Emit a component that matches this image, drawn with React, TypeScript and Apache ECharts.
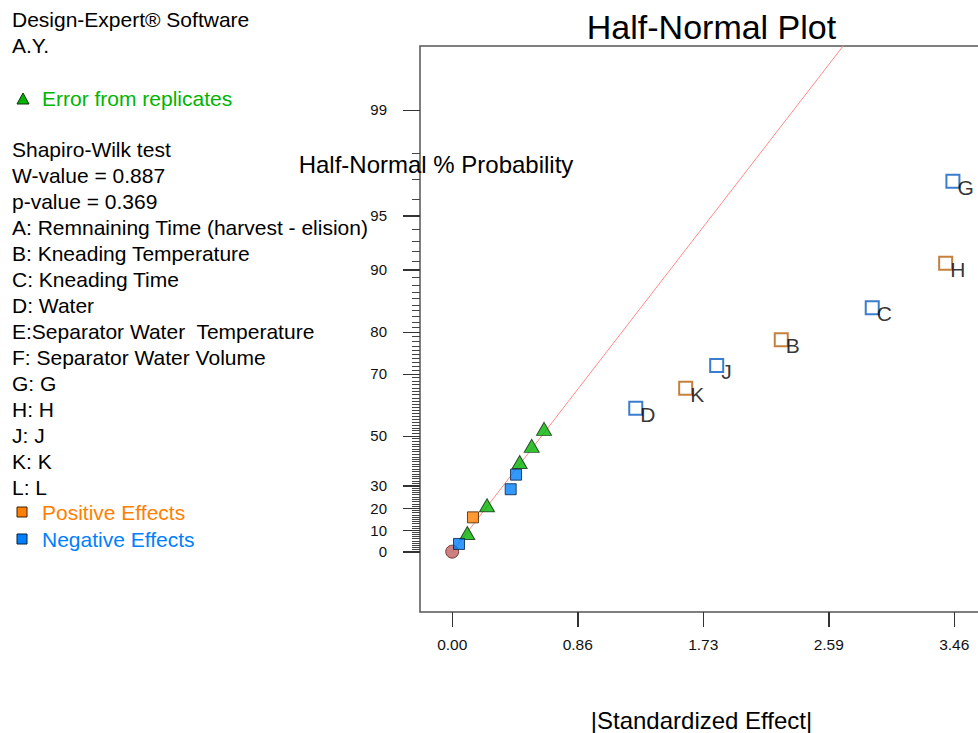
import React, { useEffect, useRef } from "react";
import * as echarts from "echarts";

const FONT = "'Liberation Sans', Arial, Helvetica, sans-serif";

// Data: x = |Standardized Effect|, y = half-normal quantile (z units) of the plotted % probability
const originPoint = [[0, 0]];
const errorPoints = [[0.104, 0.109], [0.24, 0.271], [0.465, 0.523], [0.548, 0.617], [0.633, 0.716]];
const positiveSmall = [[0.143, 0.2]];
const negativeSmall = [[0.047, 0.045], [0.403, 0.364], [0.44, 0.449]];
const positiveLabels = ["B", "H", "K"];
const positiveEffects = [[2.268, 1.236], [3.401, 1.682], [1.609, 0.953]];
const negativeLabels = ["G", "C", "J", "D"];
const negativeEffects = [[3.451, 2.16], [2.895, 1.423], [1.823, 1.085], [1.265, 0.836]];
const fitLine = [[0, 0], [2.75, 3.01]];

const xTickValues = [0, 0.865, 1.73, 2.595, 3.46];
const xTickLabels = ["0.00", "0.86", "1.73", "2.59", "3.46"];
const yTickPercents = [0, 10, 20, 30, 50, 70, 80, 90, 95, 99];

const headerLines = ["Design-Expert® Software", "A.Y."];
const errorLabel = "Error from replicates";
const statLines = ["Shapiro-Wilk test", "W-value = 0.887", "p-value = 0.369"];
const factorNames = [
  "A: Remnaining Time (harvest - elision)",
  "B: Kneading Temperature",
  "C: Kneading Time",
  "D: Water",
  "E:Separator Water  Temperature",
  "F: Separator Water Volume",
  "G: G",
  "H: H",
  "J: J",
  "K: K",
  "L: L",
];
const positiveLabel = "Positive Effects";
const negativeLabel = "Negative Effects";

// inverse standard normal (Acklam) used for the half-normal probability axis
function normInv(p: number): number {
  const a = [-3.969683028665376e1, 2.209460984245205e2, -2.759285104469687e2, 1.38357751867269e2, -3.066479806614716e1, 2.506628277459239];
  const b = [-5.447609879822406e1, 1.615858368580409e2, -1.556989798598866e2, 6.680131188771972e1, -1.328068155288572e1];
  const c = [-7.784894002430293e-3, -3.223964580411365e-1, -2.400758277161838, -2.549671010229528, 4.374664141464968, 2.938163982698783];
  const d = [7.784695709041462e-3, 3.224671290700398e-1, 2.445134137142996, 3.754408661907416];
  const pl = 0.02425;
  if (p < pl) {
    const q = Math.sqrt(-2 * Math.log(p));
    return (((((c[0] * q + c[1]) * q + c[2]) * q + c[3]) * q + c[4]) * q + c[5]) / ((((d[0] * q + d[1]) * q + d[2]) * q + d[3]) * q + 1);
  }
  if (p <= 1 - pl) {
    const q = p - 0.5;
    const r = q * q;
    return ((((((a[0] * r + a[1]) * r + a[2]) * r + a[3]) * r + a[4]) * r + a[5]) * q) / (((((b[0] * r + b[1]) * r + b[2]) * r + b[3]) * r + b[4]) * r + 1);
  }
  const q = Math.sqrt(-2 * Math.log(1 - p));
  return -(((((c[0] * q + c[1]) * q + c[2]) * q + c[3]) * q + c[4]) * q + c[5]) / ((((d[0] * q + d[1]) * q + d[2]) * q + d[3]) * q + 1);
}
const halfNormalZ = (pct: number) => (pct === 0 ? 0 : normInv(0.5 + pct / 200));

const yTickZ = yTickPercents.map(halfNormalZ);
const yMinorZ: number[] = [];
for (let p = 1; p <= 98; p++) if (yTickPercents.indexOf(p) < 0) yMinorZ.push(halfNormalZ(p));

const nearestIndex = (arr: number[], v: number) => {
  let best = 0;
  for (let i = 1; i < arr.length; i++) if (Math.abs(arr[i] - v) < Math.abs(arr[best] - v)) best = i;
  return best;
};

const X_MIN = -0.222;
const X_MAX = 3.748;
const Y_MIN = -0.352;
const Y_MAX = 2.949;

export default function App() {
  const ref = useRef<HTMLDivElement>(null);
  useEffect(() => {
    if (!ref.current) return;
    const chart = echarts.init(ref.current, null, { renderer: "svg" });

    const textEl = (text: string, x: number, y: number, size: number, fill: string, align = "left") => ({
      type: "text",
      x,
      y,
      z: 100,
      style: { text, fontSize: size, fontFamily: FONT, fill, align, verticalAlign: "middle" },
    });

    const graphics: any[] = [];
    headerLines.forEach((t, i) => graphics.push(textEl(t, 12, 19.2 + i * 26.6, 21, "#000")));
    graphics.push({
      type: "polygon",
      shape: { points: [[17, 104], [23, 93], [29, 104]] },
      style: { fill: "#00b400", stroke: "#103010", lineWidth: 1 },
    });
    graphics.push(textEl(errorLabel, 42, 98.5, 21, "#00b400"));
    [...statLines, ...factorNames].forEach((t, i) => graphics.push(textEl(t, 12, 149.2 + i * 26.02, 21, "#000")));
    graphics.push({ type: "rect", shape: { x: 17, y: 507, width: 10, height: 10 }, style: { fill: "#ff8000", stroke: "#402000", lineWidth: 1 } });
    graphics.push(textEl(positiveLabel, 42, 512.5, 21, "#ff8000"));
    graphics.push({ type: "rect", shape: { x: 17, y: 534, width: 10, height: 10 }, style: { fill: "#0080ff", stroke: "#002040", lineWidth: 1 } });
    graphics.push(textEl(negativeLabel, 42, 539.2, 21, "#0080ff"));
    graphics.push(textEl("Half-Normal % Probability", 436, 164, 24, "#000", "center"));
    graphics.push(textEl("|Standardized Effect|", 701.5, 720, 24, "#000", "center"));

    const labelStyle = {
      show: true,
      formatter: "{b}",
      position: "right",
      distance: 0,
      offset: [-3, 6],
      fontSize: 21,
      fontFamily: FONT,
      color: "#000",
    };

    chart.setOption({
      animation: false,
      backgroundColor: "#fff",
      textStyle: { fontFamily: FONT },
      title: {
        text: "Half-Normal Plot",
        left: 711.5,
        top: 10,
        padding: 0,
        textAlign: "center",
        textStyle: { fontSize: 34, fontWeight: "normal", color: "#000", fontFamily: FONT },
      },
      grid: {
        left: 420,
        top: 46,
        right: 4,
        height: 566,
        show: true,
        borderColor: "#555",
        borderWidth: 1.5,
        backgroundColor: "transparent",
      },
      xAxis: {
        type: "value",
        position: "bottom",
        min: X_MIN,
        max: X_MAX,
        axisLine: { show: false, onZero: false },
        axisTick: { show: true, customValues: xTickValues, length: 15, lineStyle: { color: "#333", width: 1 } },
        axisLabel: {
          customValues: xTickValues,
          formatter: (v: number) => xTickLabels[nearestIndex(xTickValues, v)],
          margin: 24,
          fontSize: 15.5,
          color: "#111",
          fontFamily: FONT,
        },
        splitLine: { show: false },
      },
      yAxis: [
        {
          type: "value",
          position: "left",
          offset: 0,
          min: Y_MIN,
          max: Y_MAX,
          axisLine: { show: false, onZero: false },
          axisTick: { show: true, customValues: yTickZ, length: 17, lineStyle: { color: "#333", width: 1 } },
          axisLabel: {
            customValues: yTickZ,
            formatter: (v: number) => String(yTickPercents[nearestIndex(yTickZ, v)]),
            margin: 33,
            fontSize: 15,
            color: "#111",
            fontFamily: FONT,
          },
          splitLine: { show: false },
        },
        {
          type: "value",
          position: "left",
          offset: 0,
          min: Y_MIN,
          max: Y_MAX,
          axisLine: { show: false, onZero: false },
          axisTick: { show: true, customValues: yMinorZ, length: 8, lineStyle: { color: "#444", width: 1 } },
          axisLabel: { show: false, customValues: yMinorZ },
          splitLine: { show: false },
        },
      ],
      series: [
        {
          name: "Fit",
          type: "line",
          data: fitLine,
          showSymbol: false,
          symbol: "none",
          clip: true,
          lineStyle: { color: "#ff8a8a", width: 1 },
          z: 1,
        },
        {
          name: "Origin",
          type: "scatter",
          data: originPoint,
          symbol: "circle",
          symbolSize: 13,
          itemStyle: { color: "#c06060", borderColor: "#5a2020", borderWidth: 1 },
          z: 3,
        },
        {
          name: errorLabel,
          type: "scatter",
          data: errorPoints,
          symbol: "triangle",
          symbolSize: [15, 13],
          itemStyle: { color: "#00b400", borderColor: "#103010", borderWidth: 1 },
          z: 3,
        },
        {
          name: positiveLabel,
          type: "scatter",
          data: positiveSmall,
          symbol: "rect",
          symbolSize: 11,
          itemStyle: { color: "#ff8000", borderColor: "#402000", borderWidth: 1 },
          z: 3,
        },
        {
          name: negativeLabel,
          type: "scatter",
          data: negativeSmall,
          symbol: "rect",
          symbolSize: 11,
          itemStyle: { color: "#0080ff", borderColor: "#002040", borderWidth: 1 },
          z: 3,
        },
        {
          name: "Positive labelled",
          type: "scatter",
          data: positiveEffects.map((v, i) => ({ value: v, name: positiveLabels[i] })),
          symbol: "rect",
          symbolSize: 13,
          itemStyle: { color: "#fff", borderColor: "#b8600c", borderWidth: 2 },
          label: labelStyle,
          z: 3,
        },
        {
          name: "Negative labelled",
          type: "scatter",
          data: negativeEffects.map((v, i) => ({ value: v, name: negativeLabels[i] })),
          symbol: "rect",
          symbolSize: 13,
          itemStyle: { color: "#fff", borderColor: "#0a5cc0", borderWidth: 2 },
          label: labelStyle,
          z: 3,
        },
      ],
      graphic: graphics,
    });

    // major tick marks, positioned through the chart's own axis scales
    const tickLines: any[] = [];
    yTickZ.forEach((z) => {
      const p = chart.convertToPixel({ gridIndex: 0 }, [X_MIN, z]) as number[];
      if (!p) return;
      const y = Math.round(p[1]) + 0.5;
      tickLines.push({
        type: "line",
        z: 100,
        shape: { x1: p[0] - 17, y1: y, x2: p[0], y2: y },
        style: { stroke: "#333", lineWidth: 1 },
      });
    });
    xTickValues.forEach((v) => {
      const p = chart.convertToPixel({ gridIndex: 0 }, [v, Y_MIN]) as number[];
      if (!p) return;
      const x = Math.round(p[0]) + 0.5;
      tickLines.push({
        type: "line",
        z: 100,
        shape: { x1: x, y1: p[1], x2: x, y2: p[1] + 15 },
        style: { stroke: "#333", lineWidth: 1 },
      });
    });
    chart.setOption({ graphic: [...graphics, ...tickLines] });

    return () => chart.dispose();
  }, []);
  return (
    <div style={{ position: "fixed", left: 0, top: 0, width: 978, height: 733, overflow: "hidden" }}>
      <div ref={ref} style={{ width: 1000, height: 733 }} />
    </div>
  );
}
